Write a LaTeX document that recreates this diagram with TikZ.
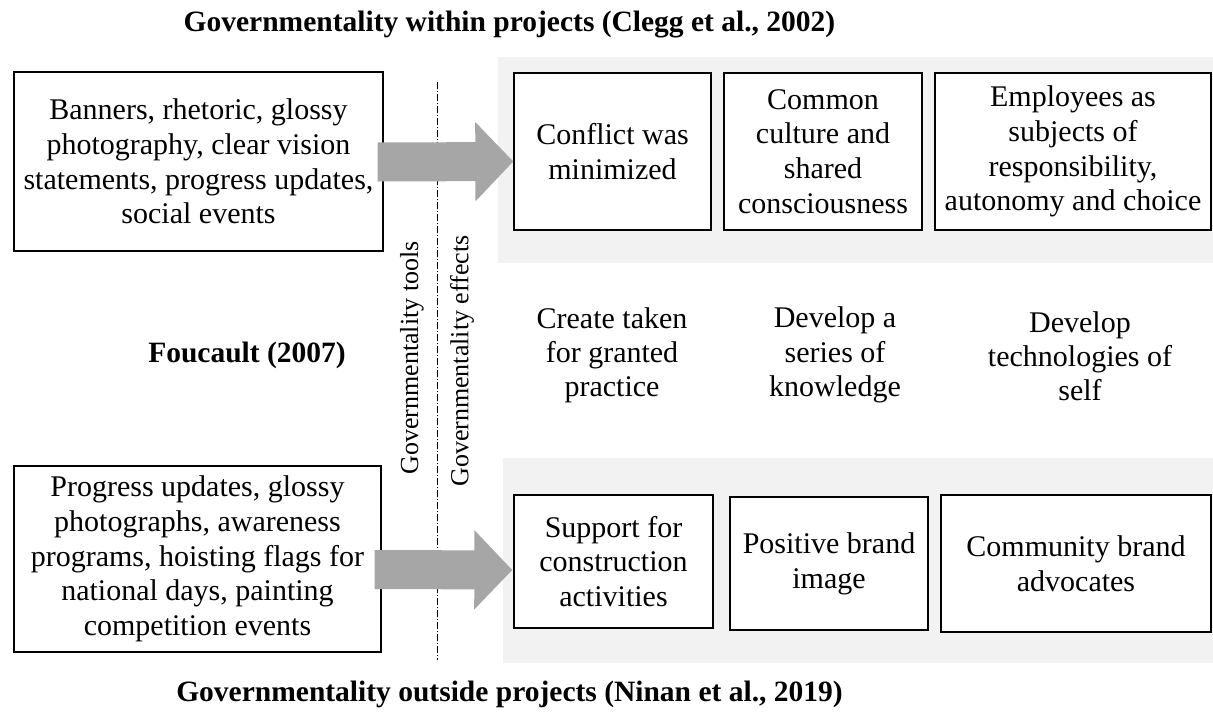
\documentclass[tikz,border=0pt]{standalone}
\usepackage{fontspec}
\setmainfont{Liberation Serif}
\usetikzlibrary{arrows.meta,calc}
\definecolor{bggray}{HTML}{F2F2F2}
\definecolor{arrgray}{HTML}{A6A6A6}
\tikzset{
  box/.style={draw=black, line width=1.3pt, fill=white, align=center, inner sep=1pt,
    font=\fontsize{30}{34.7}\selectfont},
  plain/.style={align=center, inner sep=0pt, font=\fontsize{30}{34.2}\selectfont},
  titletext/.style={inner sep=0pt, font=\fontsize{29.5}{34}\selectfont\bfseries},
  vtext/.style={rotate=90, inner sep=0pt, font=\fontsize{26}{31}\selectfont},
  bigarrow/.style={draw=arrgray, line width=39pt, -{Triangle[length=38pt,width=77pt]}},
  sep/.style={draw=black, line width=0.6pt, dash pattern=on 7pt off 2pt on 1pt off 2pt}
}
\begin{document}
\begin{tikzpicture}[x=1pt,y=-1pt]
\useasboundingbox (0,0) rectangle (1213,715);
% background panels
\fill[bggray] (498,57) rectangle (1213,263);
\fill[bggray] (503,458) rectangle (1213,663);
% titles
\node[titletext] (ttop) at (509.5,25) {Governmentality within projects (Clegg et al., 2002)};
\node[titletext] (tbot) at (509.5,694) {Governmentality outside projects (Ninan et al., 2019)};
\node[titletext] (fouc) at (247,355) {Foucault (2007)};
% separator
\coordinate (septop) at (437,82);
\coordinate (sepbot) at (437,660);
\draw[sep] (septop) -- (sepbot);
\node[vtext] (vtools) at (412,358) {Governmentality tools};
\node[vtext] (veff) at (462,361) {Governmentality effects};
% left boxes
\node[box, minimum width=369pt, minimum height=179pt] (tl) at (198.5,161.5)
  {Banners, rhetoric, glossy\\photography, clear vision\\statements, progress updates,\\social events};
\node[box, minimum width=367pt, minimum height=186pt] (bl) at (197.5,559)
  {Progress updates, glossy\\photographs, awareness\\programs, hoisting flags for\\national days, painting\\competition events};
% top effect boxes
\node[box, minimum width=197pt, minimum height=157pt] (t1) at (612.5,151.5) {Conflict was\\minimized};
\node[box, minimum width=198pt, minimum height=157pt] (t2) at (823,151.5) {Common\\culture and\\shared\\consciousness};
\node[box, minimum width=276pt, minimum height=157pt] (t3) at (1073,151.5) {Employees as\\subjects of\\responsibility,\\autonomy and choice};
% middle texts
\node[plain] (m1) at (612,355) {Create taken\\for granted\\practice};
\node[plain] (m2) at (835,355) {Develop a\\series of\\knowledge};
\node[plain] (m3) at (1080,356) {Develop\\technologies of\\self};
% bottom effect boxes
\node[box, minimum width=199pt, minimum height=133pt] (b1) at (613.5,561.5) {Support for\\construction\\activities};
\node[box, minimum width=198pt, minimum height=133pt] (b2) at (829,563.5) {Positive brand\\image};
\node[box, minimum width=270pt, minimum height=137pt] (b3) at (1076,563.5) {Community brand\\advocates};
% arrows
\draw[bigarrow] ([xshift=-6pt,yshift=-0.5pt]tl.east) -- ([yshift=-10pt]t1.west);
\draw[bigarrow] ([xshift=-7pt,yshift=-10.5pt]bl.east) -- ([xshift=-1pt,yshift=-8.5pt]b1.west);
\end{tikzpicture}
\end{document}
